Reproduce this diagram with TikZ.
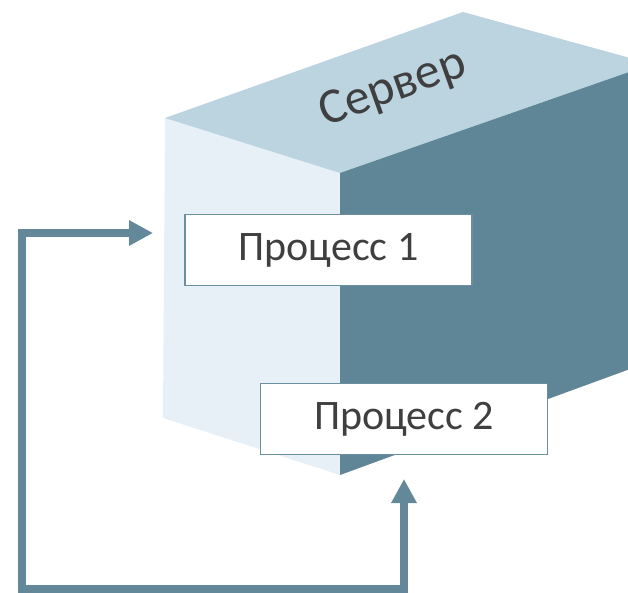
\documentclass[tikz,border=0pt]{standalone}
\usepackage{fontspec}
\setmainfont{Carlito}
\usetikzlibrary{arrows.meta}
\definecolor{faceleft}{HTML}{E8F0F7}
\definecolor{facetop}{HTML}{BCD3E0}
\definecolor{faceright}{HTML}{5F8696}
\definecolor{linkcol}{HTML}{62889A}
\definecolor{boxline}{HTML}{6A8FA0}
\definecolor{txt}{HTML}{3F3F3F}
\tikzset{
  procbox/.style={draw=boxline, line width=1.5pt, fill=white, text=txt,
    minimum width=287pt, minimum height=71pt, inner sep=0pt,
    font=\fontsize{42}{46}\selectfont},
  loop/.style={draw=linkcol, line width=8pt,
    {Triangle[length=24pt,width=24pt]}-{Triangle[length=24pt,width=24pt]}}
}
\begin{document}
\begin{tikzpicture}[x=1pt,y=-1pt]
\useasboundingbox (0,0) rectangle (628,593);
\clip (0,0) rectangle (628,593);
% server block
\fill[faceleft] (165,118) -- (340,173) -- (340,475) -- (163,418) -- cycle;
\fill[facetop] (165,118) -- (463,12) -- (652,64) -- (340,173) -- cycle;
\fill[faceright] (340,173) -- (652,64) -- (652,361) -- (340,475) -- cycle;
\node[text=txt, rotate=19.6, font=\fontsize{50}{52}\selectfont] (srv) at (393,89) {Сервер};
% processes
\node[procbox] (p1) at (328.5,250) {Процесс 1};
\node[procbox] (p2) at (404,419) {Процесс 2};
% feedback loop between the processes
\coordinate (in1) at (153,233);
\coordinate (in2) at (404,479);
\draw[loop] (in2) -- (404,589) -- (22,589) -- (22,233) -- (in1);
\end{tikzpicture}
\end{document}
